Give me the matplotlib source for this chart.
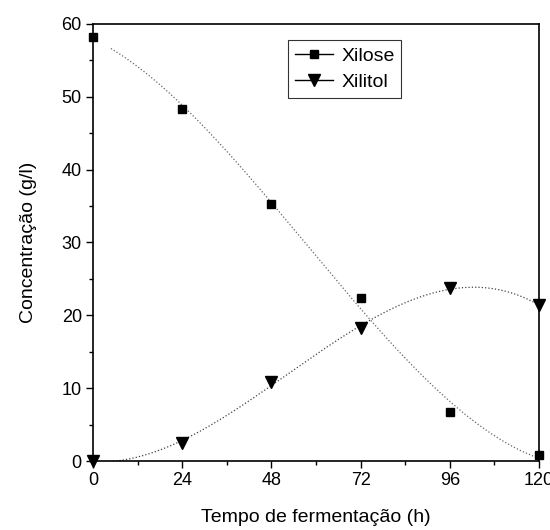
import matplotlib
matplotlib.use('Agg')
import matplotlib.pyplot as plt
import numpy as np

plt.rcParams['font.family'] = ['Liberation Sans', 'DejaVu Sans']

tempo = [0, 24, 48, 72, 96, 120]
xilose = [58.2, 48.3, 35.3, 22.4, 6.8, 0.8]
xilitol = [0.0, 2.5, 10.9, 18.2, 23.7, 21.4]

fig = plt.figure(figsize=(5.5, 5.3), dpi=100)
ax = fig.add_axes([0.169, 0.130, 0.811, 0.825])

# smooth fitted curves from the data
tt = np.linspace(0, 120, 200)
cx = np.polyfit(tempo, xilose, 3)
ct = np.polyfit(tempo, xilitol, 3)
ax.plot(tt[8:], np.polyval(cx, tt[8:]), ':', color='#666666', lw=0.9)
ax.plot(tt, np.polyval(ct, tt), ':', color='#444444', lw=0.9)

ax.plot(tempo, xilose, 's', color='black', ms=6, clip_on=False)
ax.plot(tempo, xilitol, 'v', color='black', ms=8, clip_on=False)

# legend proxies
h1, = ax.plot([], [], '-s', color='black', ms=6, lw=1)
h2, = ax.plot([], [], '-v', color='black', ms=8, lw=1)
leg = ax.legend([h1, h2], ['Xilose', 'Xilitol'], loc='upper left',
                bbox_to_anchor=(0.415, 0.985), fontsize=14, frameon=True,
                fancybox=False, edgecolor='black', handlelength=2.0,
                handletextpad=0.4, borderpad=0.35, labelspacing=0.45)
leg.get_frame().set_linewidth(0.8)

ax.set_xlim(0, 120)
ax.set_ylim(0, 60)
ax.set_xticks(tempo)
ax.set_xticks([12, 36, 60, 84, 108], minor=True)
ax.set_yticks([0, 10, 20, 30, 40, 50, 60])
ax.set_yticks([5, 15, 25, 35, 45, 55], minor=True)
ax.tick_params(direction='out', length=5, width=1, labelsize=13, pad=3)
ax.tick_params(which='minor', direction='out', length=3, width=1)
for s in ax.spines.values():
    s.set_linewidth(1.2)

ax.set_xlabel('Tempo de fermentação (h)', fontsize=14, labelpad=14)
ax.set_ylabel('Concentração (g/l)', fontsize=14, labelpad=18)

fig.savefig('out.png', dpi=100)
